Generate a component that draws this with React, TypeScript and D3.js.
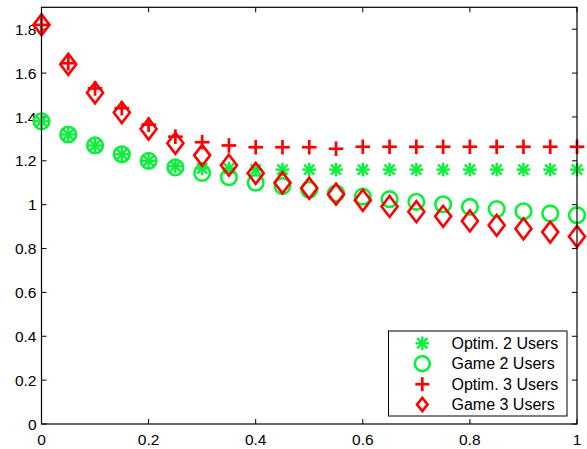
import React from "react";
import * as d3 from "d3";

const xValues = [0, 0.05, 0.1, 0.15, 0.2, 0.25, 0.3, 0.35, 0.4, 0.45, 0.5, 0.55, 0.6, 0.65, 0.7, 0.75, 0.8, 0.85, 0.9, 0.95, 1.0];
const optim2 = [1.38, 1.32, 1.27, 1.23, 1.2, 1.175, 1.165, 1.165, 1.16, 1.16, 1.16, 1.16, 1.16, 1.16, 1.16, 1.16, 1.16, 1.16, 1.16, 1.16, 1.16];
const game2 = [1.38, 1.32, 1.27, 1.23, 1.2, 1.17, 1.145, 1.125, 1.1, 1.085, 1.068, 1.052, 1.037, 1.025, 1.013, 1.002, 0.99, 0.98, 0.97, 0.96, 0.952];
const optim3 = [1.82, 1.645, 1.53, 1.44, 1.365, 1.31, 1.285, 1.27, 1.262, 1.262, 1.262, 1.255, 1.264, 1.264, 1.264, 1.264, 1.264, 1.264, 1.264, 1.264, 1.264];
const game3 = [1.82, 1.64, 1.51, 1.42, 1.345, 1.28, 1.225, 1.18, 1.143, 1.1, 1.075, 1.048, 1.02, 0.992, 0.968, 0.947, 0.926, 0.906, 0.89, 0.875, 0.855];
const xTicks = [0, 0.2, 0.4, 0.6, 0.8, 1];
const yTicks = [0, 0.2, 0.4, 0.6, 0.8, 1, 1.2, 1.4, 1.6, 1.8];
const legendLabels = ["Optim. 2 Users", "Game 2 Users", "Optim. 3 Users", "Game 3 Users"];

const GREEN = "#0af03a";
const RED = "#ff0000";
const FONT = "'Liberation Sans', Arial, Helvetica, sans-serif";

const W = 587;
const H = 449;
const L = 41.5, R = 577, T = 7.3, B = 424;

function Asterisk({ cx, cy, r }: { cx: number; cy: number; r: number }) {
  const d = r * 0.75;
  return (
    <g stroke={GREEN} strokeWidth={2.4} strokeLinecap="butt">
      <line x1={cx} y1={cy - r} x2={cx} y2={cy + r} />
      <line x1={cx - r} y1={cy} x2={cx + r} y2={cy} />
      <line x1={cx - d} y1={cy - d} x2={cx + d} y2={cy + d} />
      <line x1={cx - d} y1={cy + d} x2={cx + d} y2={cy - d} />
    </g>
  );
}

function Plus({ cx, cy, r }: { cx: number; cy: number; r: number }) {
  return (
    <g stroke={RED} strokeWidth={2.7}>
      <line x1={cx} y1={cy - r} x2={cx} y2={cy + r} />
      <line x1={cx - r} y1={cy} x2={cx + r} y2={cy} />
    </g>
  );
}

function Diamond({ cx, cy, w, h }: { cx: number; cy: number; w: number; h: number }) {
  const p = `M${cx},${cy - h}L${cx + w},${cy}L${cx},${cy + h}L${cx - w},${cy}Z`;
  return <path d={p} fill="none" stroke={RED} strokeWidth={2.6} strokeLinejoin="miter" />;
}

function Circle({ cx, cy, r }: { cx: number; cy: number; r: number }) {
  return <circle cx={cx} cy={cy} r={r} fill="none" stroke={GREEN} strokeWidth={2.6} />;
}

export default function App() {
  const x = d3.scaleLinear().domain([0, 1]).range([L, R]);
  const y = d3.scaleLinear().domain([0, 1.9]).range([B, T]);
  const tickLen = 5;

  const lx = 388.5, ly = 331, lw = 178.5, lh = 85;
  const rowY = [343.3, 363.6, 384.2, 404.5];
  const mx = 422.3;

  return (
    <svg width={W} height={H} style={{ position: "absolute", left: 0, top: 0, background: "#fff" }}>
      <rect x={0} y={0} width={W} height={H} fill="#fff" />
      {/* ticks */}
      <g stroke="#000" strokeWidth={1}>
        {xTicks.map((t) => (
          <g key={"xt" + t}>
            <line x1={x(t)} y1={B} x2={x(t)} y2={B - tickLen} />
            <line x1={x(t)} y1={T} x2={x(t)} y2={T + tickLen} />
          </g>
        ))}
        {yTicks.map((t) => (
          <g key={"yt" + t}>
            <line x1={L} y1={y(t)} x2={L + tickLen} y2={y(t)} />
            <line x1={R} y1={y(t)} x2={R - tickLen} y2={y(t)} />
          </g>
        ))}
      </g>
      {/* tick labels */}
      <g fontFamily={FONT} fontSize={15.5} fill="#000">
        {xTicks.map((t) => (
          <text key={"xl" + t} x={x(t)} y={445} textAnchor="middle">
            {d3.format("~g")(t)}
          </text>
        ))}
        {yTicks.map((t) => (
          <text key={"yl" + t} x={L - 5} y={y(t)} dy="0.36em" textAnchor="end">
            {d3.format("~g")(t)}
          </text>
        ))}
      </g>
      {/* series */}
      <g>
        {xValues.map((v, i) => (
          <Circle key={"g2" + i} cx={x(v)} cy={y(game2[i])} r={7.8} />
        ))}
        {xValues.map((v, i) => (
          <Asterisk key={"o2" + i} cx={x(v)} cy={y(optim2[i])} r={6.8} />
        ))}
        {xValues.map((v, i) => (
          <Plus key={"o3" + i} cx={x(v)} cy={y(optim3[i])} r={7.3} />
        ))}
        {xValues.map((v, i) => (
          <Diamond key={"g3" + i} cx={x(v)} cy={y(game3[i])} w={8} h={10.5} />
        ))}
      </g>
      {/* axes box */}
      <rect x={L} y={T} width={R - L} height={B - T} fill="none" stroke="#000" strokeWidth={1.2} />
      {/* legend */}
      <g>
        <rect x={lx} y={ly} width={lw} height={lh} fill="#fff" stroke="#000" strokeWidth={1} />
        <Asterisk cx={mx} cy={rowY[0]} r={6.8} />
        <Circle cx={mx} cy={rowY[1]} r={7.5} />
        <Plus cx={mx} cy={rowY[2]} r={7} />
        <Diamond cx={mx} cy={rowY[3]} w={5.3} h={6.6} />
        <g fontFamily={FONT} fontSize={16} fill="#000">
          {legendLabels.map((s, i) => (
            <text key={s} x={451.5} y={rowY[i]} dy="0.36em">
              {s}
            </text>
          ))}
        </g>
      </g>
    </svg>
  );
}
